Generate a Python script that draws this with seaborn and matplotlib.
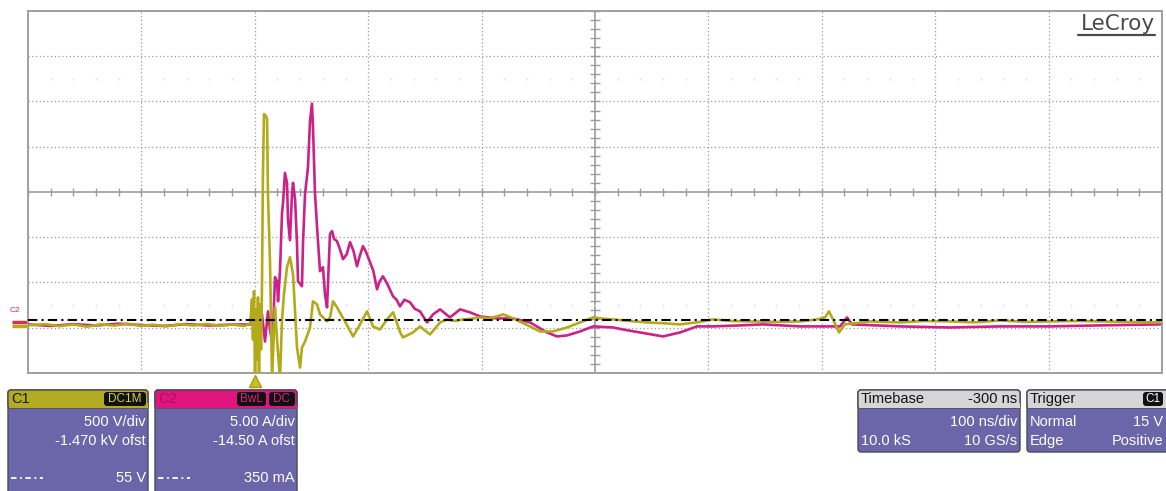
import matplotlib
matplotlib.use("Agg")
import numpy as np
import pandas as pd
import matplotlib.pyplot as plt
import matplotlib.transforms as mtransforms
from matplotlib.patches import FancyBboxPatch, Rectangle
import seaborn as sns

# ---- acquisition settings -------------------------------------------------
TIME_PER_DIV = 100.0        # ns/div
TRIGGER_DELAY = -300.0      # ns
N_HDIV, N_VDIV = 10, 8
C1_VOLTS_PER_DIV = 500.0    # V/div
C1_OFFSET = -1470.0         # V
C2_AMPS_PER_DIV = 5.00      # A/div
C2_OFFSET = -14.50          # A
CURSOR_V = 55               # V   (C1 cursor level)
CURSOR_A = 0.350            # A   (C2 cursor level)
TRIG_LEVEL = 15             # V

# ---- C1: voltage (V) vs time (ns) ----------------------------------------
c1_time = [-200, -185, -172, -160, -148, -136, -124, -112, -101, -90, -78, -66,
           -54, -42, -31, -20, -9, -4,
           -2.5, -1.6, -0.7, 0.2, 1.1, 1.9, 2.8, 3.7, 4.6, 5.5, 6.3, 7.2, 8.1,
           9.9, 10.8, 11.6, 13.4, 15.2, 16.9, 17.8, 19.6, 22.2, 24.0, 25.7,
           28.4, 31.0, 33.7, 35.5, 37.2, 39.9, 41.6, 44.3, 48.7, 51.3, 54.9,
           57.5, 63.7, 66.3, 69.0, 72.5, 79.5, 86.6, 92.8, 99.0, 104.3, 110.4,
           116.6, 122.0, 128.2, 130.7, 139.5, 145.7, 154.5, 163.4, 169.5, 176,
           183.6, 191, 198.6, 206, 213.6, 219.0, 227.8, 235, 242.7, 251.5,
           263.0, 275.3, 286.8, 298.3, 307, 315.9, 330, 345.9, 360, 375.0, 390,
           404.1, 420, 436.7, 460, 480.8, 495, 502.8, 506.3, 510.8, 515.2,
           520.5, 542.5, 569.0, 590, 613.1, 635, 657.2, 680, 701.3, 725, 745.4,
           770, 798.3]
c1_volts = [-4, 10, -12, 6, -18, 8, -6, 14, -10, 4, -15, 9,
            -5, 12, -8, 5, -10, 18,
            284, -160, 373, -600, 173, -382, 306, -600, 228, -271, 395, 1701, 2331,
            2309, 2276, 1448, 705, -600, -49, 195, -160, -600, 62, 339,
            639, 750, 561, 151, -248, -470, -248, -182, -27, 262, 228,
            118, 40, 84, 262, 195, 40, -126, 7, 151, -16, -49,
            62, 140, -82, -137, -82, -16, -104, 29, 62, 45,
            62, 70, 84, 75, 95, 118, 73, 30, -16, -71,
            -71, -27, 29, 84, 70, 62, 45, 29, 20, 7, 30,
            62, 45, 40, 35, 40, 60, 84, 151, 40, -82,
            7, 40, 29, 45, 40, 30, 51, 35, 40, 45, 40,
            35, 29]

# ---- C2: current (A) vs time (ns) ----------------------------------------
c2_time = [-200, -180, -160, -140, -120, -100, -80, -60, -40, -20, -4,
           2.8, 6.3, 9.0, 11.6, 13.4, 15.2, 16.0, 17.8, 19.6, 20.5, 22.2, 24.0,
           24.9, 26.6, 28.4, 29.3, 31.0, 32.8, 33.7, 35.5, 37.2, 38.1, 41.6,
           42.5, 44.3, 46.0, 46.9, 48.7, 50.4, 51.3, 53.1, 54.9, 57.5, 60.1,
           61.9, 63.7, 66.3, 68.1, 70.0, 72.5, 75.0, 77.8, 81.0, 84.0, 87.0,
           90.1, 92.5, 95.4, 98.0, 101.6, 104.5, 107.8, 110.0, 113.0, 117.0,
           121.9, 125.0, 128.0, 132.0, 136.9, 141.0, 145.7, 151.9, 157.2, 163.4,
           172.1, 181.0, 189.8, 198.6, 213.6, 227.7, 242.7, 257.7, 266.5, 275.3,
           286.8, 298.3, 315.9, 324.7, 339.7, 360.0, 375.0, 390.0, 404.1, 427.9,
           448.2, 480.8, 516.1, 522.3, 526.6, 569.0, 613.1, 657.2, 701.3, 745.4,
           798.3]
c2_amps = [-0.13, -0.3, -0.1, -0.25, -0.05, -0.2, -0.3, -0.1, -0.25, -0.15, -0.13,
           -0.02, 0.98, -2.02, 1.31, -0.69, -2.02, -1.24, 5.08, 4.64, 2.42, 5.74, 12.18,
           13.29, 16.61, 15.51, 11.40, 9.18, 14.28, 15.51, 13.73, 8.85, 4.64, 4.08,
           8.85, 14.28, 16.17, 17.28, 22.38, 24.26, 21.71, 14.28, 10.62, 5.74, 6.19,
           3.19, 1.75, 9.85, 10.18, 9.3, 9.07, 8.2, 7.08, 7.6, 8.96, 8.0,
           6.30, 7.4, 8.52, 7.9, 6.74, 5.8, 3.75, 4.6, 5.19, 4.3,
           2.97, 2.6, 1.86, 2.6, 2.31, 1.6, 1.31, 0.09, 0.98, 1.53,
           0.64, 1.53, 1.20, 0.75, 0.53, 0.53, 0.09, -1.02, -1.46, -1.35,
           -0.91, -0.35, -0.47, -0.69, -1.02, -1.46, -1.02, -0.35, -0.35, -0.24,
           -0.13, -0.35, -0.35, 0.64, -0.13, -0.35, -0.47, -0.35, -0.35, -0.24,
           -0.13]

C1_COLOR = "#B3AA1A"
C2_COLOR = "#CC2288"
GRID_COLOR = "#9c9c9c"

# convert both channels to screen divisions
df = pd.concat([
    pd.DataFrame({"time": c1_time,
                  "div": (np.array(c1_volts) + C1_OFFSET) / C1_VOLTS_PER_DIV,
                  "channel": "C1"}),
    pd.DataFrame({"time": c2_time,
                  "div": (np.array(c2_amps) + C2_OFFSET) / C2_AMPS_PER_DIV,
                  "channel": "C2"}),
], ignore_index=True)

sns.set_theme(style="white")
plt.rcParams["font.family"] = ["Liberation Sans", "DejaVu Sans"]

W, H = 1166, 491
fig = plt.figure(figsize=(W / 100, H / 100), dpi=100)
fig.patch.set_facecolor("white")

L, R, T, B = 28, 1162, 11, 373
ax = fig.add_axes([L / W, 1 - B / H, (R - L) / W, (B - T) / H])
ax.set_facecolor("white")

t_center = -TRIGGER_DELAY
t_left = t_center - N_HDIV / 2 * TIME_PER_DIV
t_right = t_center + N_HDIV / 2 * TIME_PER_DIV
ax.set_xlim(t_left, t_right)
ax.set_ylim(-N_VDIV / 2, N_VDIV / 2)
ax.set_xticks([])
ax.set_yticks([])
for sp in ax.spines.values():
    sp.set_color("#a0a0a0")
    sp.set_linewidth(1.4)

# graticule
for k in range(1, N_HDIV):
    t = t_left + k * TIME_PER_DIV
    if k == N_HDIV // 2:
        ax.axvline(t, color=GRID_COLOR, lw=1.2, zorder=1)
    else:
        ax.axvline(t, color=GRID_COLOR, lw=0.9, ls=(0, (1, 2)), zorder=1)
for k in range(-N_VDIV // 2 + 1, N_VDIV // 2):
    if k == 0:
        ax.axhline(0, color=GRID_COLOR, lw=1.2, zorder=1)
    else:
        ax.axhline(k, color=GRID_COLOR, lw=0.9, ls=(0, (1, 2)), zorder=1)

# sub-division ticks on the centre axes
sub_t = np.arange(t_left, t_right + 1e-6, TIME_PER_DIV / 5)
ax.vlines(sub_t, -0.09, 0.09, color=GRID_COLOR, lw=1.0, zorder=1)
sub_y = np.arange(-N_VDIV / 2, N_VDIV / 2 + 1e-6, 0.2)
ax.hlines(sub_y, t_center - 4.5, t_center + 4.5, color=GRID_COLOR, lw=1.0, zorder=1)
# faint sub-division marks on the quarter lines
for yq in (2.5, -2.5):
    ax.vlines(sub_t, yq - 0.03, yq + 0.03, color="#dedede", lw=1.0, zorder=1)

# traces
sns.lineplot(data=df, x="time", y="div", hue="channel", hue_order=["C2", "C1"],
             palette={"C1": C1_COLOR, "C2": C2_COLOR}, estimator=None, sort=False,
             linewidth=1.9, legend=False, ax=ax, zorder=3)
ax.set_xlabel("")
ax.set_ylabel("")

# cursor line at the C1 cursor level
ax.axhline((CURSOR_V + C1_OFFSET) / C1_VOLTS_PER_DIV, color="black", lw=1.5,
           ls=(0, (4.5, 2, 1, 2)), zorder=4)

# trigger time marker below the grid
trans_xa = mtransforms.blended_transform_factory(ax.transData, ax.transAxes)
ax.plot([0], [-0.023], marker="^", ms=8, color="#C8C020", mec="#A8A010",
        transform=trans_xa, clip_on=False, zorder=6)

# channel ground markers left of the grid
trans_ay = mtransforms.blended_transform_factory(ax.transAxes, ax.transData)
ax.plot([-0.014, 0], [C1_OFFSET / C1_VOLTS_PER_DIV - 0.02] * 2, color=C1_COLOR,
        lw=2.5, transform=trans_ay, clip_on=False, solid_capstyle="butt")
ax.plot([-0.014, 0], [C2_OFFSET / C2_AMPS_PER_DIV + 0.03] * 2, color="#D8304A",
        lw=2.5, transform=trans_ay, clip_on=False, solid_capstyle="butt")

# ---- overlay in pixel coordinates for the info panels ---------------------
ov = fig.add_axes([0, 0, 1, 1], zorder=10)
ov.set_xlim(0, W)
ov.set_ylim(H, 0)
ov.axis("off")

ov.text(15, 311, "C2", fontsize=6, color="#D03060", ha="center", va="center")

ov.text(1155, 24, "LeCroy", fontsize=15.5, color="#4a4a4a", ha="right", va="center",
        family="DejaVu Sans")
ov.plot([1078, 1155], [35, 35], color="#4a4a4a", lw=1.6)

BODY = "#6B65AA"
EDGE = "#4a4a55"
FS = 10.5


def panel(x0, x1, y0, y1, head_color, head_h=18):
    ov.add_patch(FancyBboxPatch((x0, y0), x1 - x0, y1 - y0,
                                boxstyle="round,pad=0,rounding_size=3",
                                fc=BODY, ec=EDGE, lw=1.0, zorder=1))
    ov.add_patch(FancyBboxPatch((x0, y0), x1 - x0, head_h,
                                boxstyle="round,pad=0,rounding_size=3",
                                fc=head_color, ec=EDGE, lw=1.0, zorder=2))
    ov.add_patch(Rectangle((x0 + 0.5, y0 + head_h - 5), x1 - x0 - 1, 5,
                           fc=head_color, ec="none", zorder=2))


def badge(x0, x1, y, text, color, fs=8.5):
    ov.add_patch(FancyBboxPatch((x0, y - 7), x1 - x0, 14,
                                boxstyle="round,pad=0,rounding_size=3",
                                fc="#111111", ec="none", zorder=3))
    ov.text((x0 + x1) / 2, y, text, color=color, fontsize=fs, ha="center",
            va="center", zorder=4)


def dashdot(x0, y):
    ov.plot([x0, x0 + 32], [y, y], color="white", lw=1.3, ls=(0, (3, 2, 1, 2)),
            zorder=4)


HY, R1, R2, R3 = 399, 422, 441, 478

# C1 channel box
panel(8, 148, 390, 500, "#B3AC22")
ov.text(11, HY, "C1", fontsize=FS, color="#1a1a1a", va="center", zorder=4)
badge(104, 146, HY, "DC1M", "#D8D040")
ov.text(146, R1, f"{C1_VOLTS_PER_DIV:.0f} V/div", color="white", fontsize=FS,
        ha="right", va="center", zorder=4)
ov.text(146, R2, f"{C1_OFFSET / 1000:.3f} kV ofst", color="white", fontsize=FS,
        ha="right", va="center", zorder=4)
ov.text(146, R3, f"{CURSOR_V} V", color="white", fontsize=FS, ha="right",
        va="center", zorder=4)
dashdot(11, R3)

# C2 channel box
panel(155, 297, 390, 500, "#E2157E")
ov.text(158, HY, "C2", fontsize=FS, color="#B00C60", va="center", zorder=4)
badge(237, 266, HY, "BwL", "#E0207F")
badge(269, 295, HY, "DC", "#E0207F")
ov.text(295, R1, f"{C2_AMPS_PER_DIV:.2f} A/div", color="white", fontsize=FS,
        ha="right", va="center", zorder=4)
ov.text(295, R2, f"{C2_OFFSET:.2f} A ofst", color="white", fontsize=FS,
        ha="right", va="center", zorder=4)
ov.text(295, R3, f"{CURSOR_A * 1000:.0f} mA", color="white", fontsize=FS,
        ha="right", va="center", zorder=4)
dashdot(158, R3)

# Timebase box
panel(858, 1020, 390, 452, "#D6D6D6")
ov.text(861, HY, "Timebase", fontsize=FS, color="#111111", va="center", zorder=4)
ov.text(1017, HY, f"{TRIGGER_DELAY:.0f} ns", fontsize=FS, color="#111111",
        ha="right", va="center", zorder=4)
ov.text(1017, R1, f"{TIME_PER_DIV:.0f} ns/div", fontsize=FS, color="white",
        ha="right", va="center", zorder=4)
ov.text(861, R2, "10.0 kS", fontsize=FS, color="white", va="center", zorder=4)
ov.text(1017, R2, "10 GS/s", fontsize=FS, color="white", ha="right",
        va="center", zorder=4)

# Trigger box
panel(1027, 1170, 390, 452, "#D6D6D6")
ov.text(1030, HY, "Trigger", fontsize=FS, color="#111111", va="center", zorder=4)
badge(1143, 1163, HY, "C1", "white")
ov.text(1030, R1, "Normal", fontsize=FS, color="white", va="center", zorder=4)
ov.text(1163, R1, f"{TRIG_LEVEL} V", fontsize=FS, color="white", ha="right",
        va="center", zorder=4)
ov.text(1030, R2, "Edge", fontsize=FS, color="white", va="center", zorder=4)
ov.text(1163, R2, "Positive", fontsize=FS, color="white", ha="right",
        va="center", zorder=4)

fig.savefig("out.png", dpi=100, facecolor="white")
